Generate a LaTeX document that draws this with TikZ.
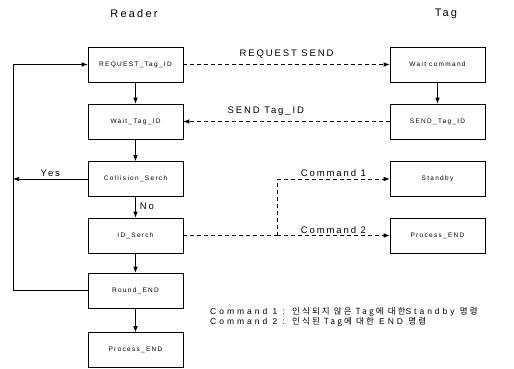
\documentclass[tikz,border=0pt]{standalone}
\usepackage{fontspec}
\setmainfont{Liberation Sans}
\newfontfamily\kr{Noto Sans CJK KR}[LetterSpace=25]
\usetikzlibrary{arrows.meta}
\begin{document}
\begin{tikzpicture}[x=1pt,y=-1pt,
  box/.style={draw,line width=0.6pt,minimum width=95pt,minimum height=35pt,inner sep=0pt,font=\fontsize{6.5}{7}\selectfont\addfontfeature{LetterSpace=20}},
  lbl/.style={inner sep=1pt,font=\fontsize{9.5}{10}\selectfont\addfontfeature{LetterSpace=20}},
  ttl/.style={inner sep=0pt,font=\fontsize{11}{12}\selectfont\addfontfeature{LetterSpace=20}},
  arr/.style={line width=0.6pt,-{Latex[length=6pt,width=4.5pt]}},
  darr/.style={arr,dashed,dash pattern=on 4pt off 3pt}]
\useasboundingbox (0,0) rectangle (514,368);
\node[ttl] (reader) at (134,14) {Reader};
\node[ttl] (tag) at (446,14) {Tag};
\node[box] (req) at (135.5,64.5) {REQUEST\_Tag\_ID};
\node[box] (wtid) at (135.5,121.5) {Wait\_Tag\_ID};
\node[box] (col) at (135.5,179) {Collision\_Serch};
\node[box] (ids) at (135.5,235.5) {ID\_Serch};
\node[box] (rnd) at (135.5,290.5) {Round\_END};
\node[box] (pend) at (135.5,350) {Process\_END};
\node[box] (wcmd) at (437.5,64.5) {Wait command};
\node[box] (stid) at (437.5,121.5) {SEND\_Tag\_ID};
\node[box] (stby) at (437.5,179) {Standby};
\node[box] (pend2) at (437.5,235.5) {Process\_END};
\coordinate (lt) at (13,64.5);
\coordinate (lb) at (13,290.5);
\coordinate (ly) at (13,179);
\coordinate (jt) at (277,179);
\coordinate (jb) at (277,235.5);
\draw[arr] (req) -- (wtid);
\draw[arr] (wtid) -- (col);
\draw[arr] (col) -- node[right=3pt,lbl,pos=0.45] (no) {No} (ids);
\draw[arr] (ids) -- (rnd);
\draw[arr] (rnd) -- (pend);
\draw[arr] (wcmd) -- (stid);
\draw[line width=0.6pt] (rnd.west) -- (lb) -- (lt);
\draw[arr] (lt) -- (req.west);
\draw[arr] (col.west) -- node[above=1pt,lbl] (yes) {Yes} (ly);
\draw[darr] (req.east) -- node[above=5pt,lbl] (rs) {REQUEST SEND} (wcmd.west);
\draw[darr] (stid.west) -- node[above=5pt,lbl,pos=0.6] (st) {SEND Tag\_ID} (wtid.east);
\draw[dashed,dash pattern=on 4pt off 3pt,line width=0.6pt] (ids.east) -- (jb);
\draw[darr] (jb) -- (jt) -- node[above=1pt,lbl,pos=0.5] (c1) {Command 1} (stby.west);
\draw[darr] (jb) -- node[above=1pt,lbl,pos=0.5] (c2) {Command 2} (pend2.west);
\node[anchor=west,inner sep=0pt,align=left,font=\fontsize{8.5}{9}\selectfont\addfontfeature{LetterSpace=35}] (note) at (210,317)
 {Command 1 : {\kr 인식되지 않은 Tag에 대한}Standby {\kr 명령}\\Command 2 : {\kr 인식된 Tag에 대한} END {\kr 명령}};
\end{tikzpicture}
\end{document}
